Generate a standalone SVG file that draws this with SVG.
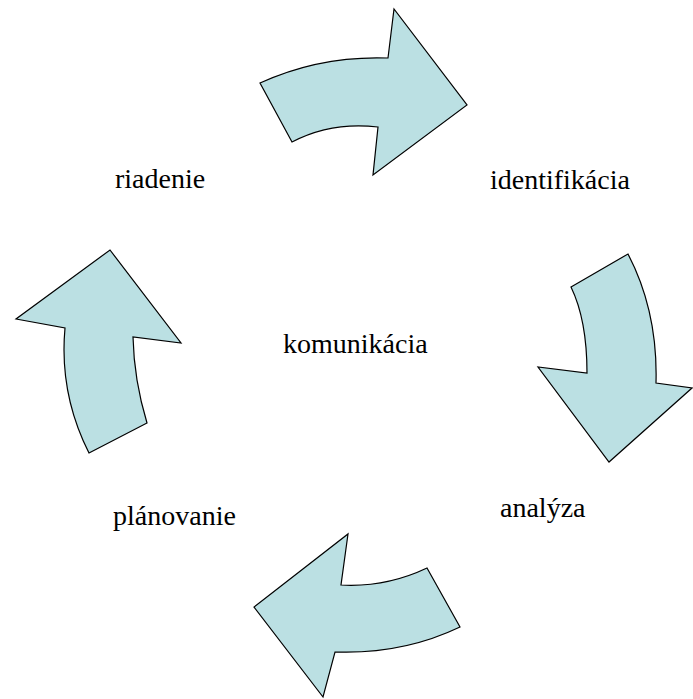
<svg xmlns="http://www.w3.org/2000/svg" width="693" height="699" viewBox="0 0 693 699">
<style>
.arr{fill:#bbe0e3;stroke:#000;stroke-width:1.2;stroke-linejoin:miter}
.lbl{font-family:"Liberation Serif","Times New Roman",serif;font-size:28px;fill:#000}
</style>
<rect width="693" height="699" fill="#fff"/>
<g id="arrows">
<g id="arrow-top"><path class="arr" d="M260,83 Q320,55.5 388,58 L394,9 L467,105 L373,175 L378,127 Q331,121.5 292,142 Z"/></g>
<g id="arrow-right"><path class="arr" d="M571,287 L628,254 Q658,311.5 656,383 L692,388 L609,462 L538,367 L587,373 Q587,320 571,287 Z"/></g>
<g id="arrow-bottom"><path class="arr" d="M427,568 L460,627 Q402.5,654.5 335,652 L323,697 L254,607 L348,534 L341,585 Q386,587.5 427,568 Z"/></g>
<g id="arrow-left"><path class="arr" d="M89,453 L147,423 Q134,380 133,337 L181,343 L110,250 L16,319 L65,328 Q59,393.5 89,453 Z"/></g>
</g>
<g id="riadenie"><text class="lbl" x="115" y="188">riadenie</text></g>
<g id="identifikacia"><text class="lbl" x="490" y="189">identifikácia</text></g>
<g id="komunikacia"><text class="lbl" x="283" y="353">komunikácia</text></g>
<g id="planovanie"><text class="lbl" x="113" y="525">plánovanie</text></g>
<g id="analyza"><text class="lbl" x="500" y="517">analýza</text></g>
</svg>
